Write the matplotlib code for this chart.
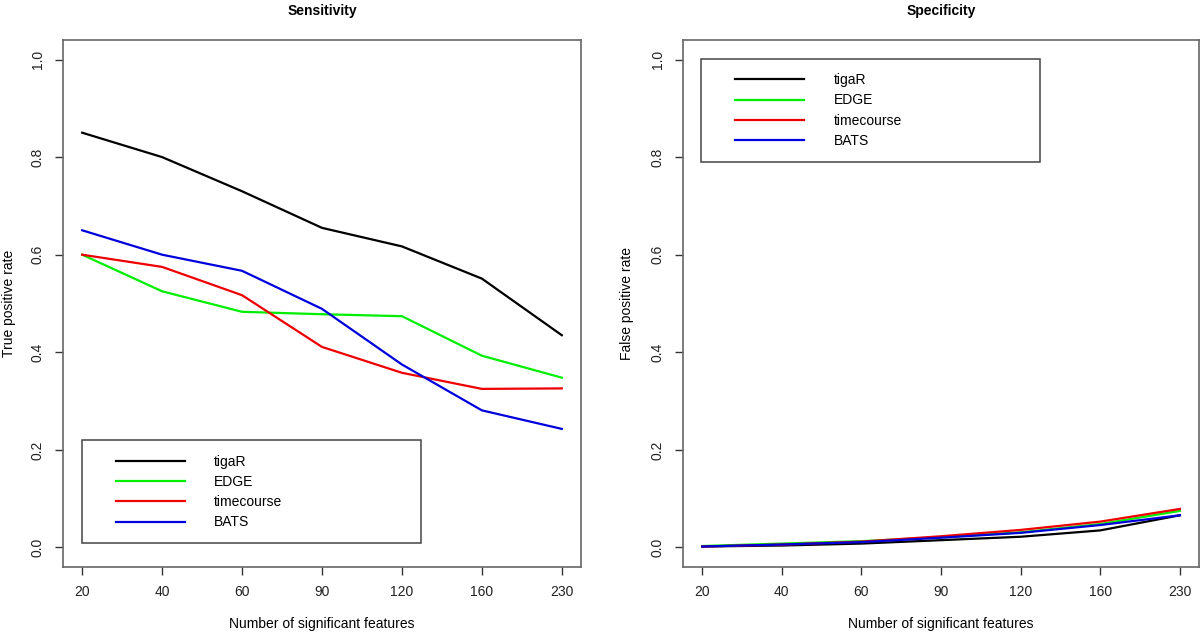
import numpy as np
import matplotlib
matplotlib.use("Agg")
import matplotlib.pyplot as plt
from matplotlib.patches import Rectangle

plt.rcParams['font.family'] = ['Liberation Sans', 'DejaVu Sans']

features = ['20', '40', '60', '90', '120', '160', '230']
methods = ['tigaR', 'EDGE', 'timecourse', 'BATS']
colors = ['black', '#00ee00', '#ee0000', '#0000dd']

sens_tigar = [0.850, 0.800, 0.730, 0.655, 0.617, 0.551, 0.435]
sens_edge = [0.600, 0.525, 0.483, 0.478, 0.474, 0.393, 0.348]
sens_timecourse = [0.600, 0.575, 0.517, 0.411, 0.358, 0.325, 0.326]
sens_bats = [0.650, 0.600, 0.567, 0.489, 0.375, 0.281, 0.243]

spec_tigar = [0.002, 0.004, 0.008, 0.015, 0.022, 0.035, 0.066]
spec_edge = [0.003, 0.008, 0.013, 0.021, 0.031, 0.048, 0.075]
spec_timecourse = [0.002, 0.006, 0.012, 0.023, 0.036, 0.053, 0.079]
spec_bats = [0.002, 0.006, 0.011, 0.020, 0.030, 0.046, 0.066]

sens = [sens_tigar, sens_edge, sens_timecourse, sens_bats]
spec = [spec_tigar, spec_edge, spec_timecourse, spec_bats]

W, H = 1200, 633
fig = plt.figure(figsize=(12, 6.33), dpi=100)
ax1 = fig.add_axes([63 / W, (H - 567) / H, 518 / W, 527 / H])
ax2 = fig.add_axes([683 / W, (H - 567) / H, 516 / W, 527 / H])

x = np.arange(len(features))


def style(ax, title, ylabel, ylab_x):
    ax.set_xlim(-0.24, 6.24)
    ax.set_ylim(-0.04, 1.04)
    ax.set_xticks(x)
    ax.set_xticklabels(features)
    ax.set_yticks([0, 0.2, 0.4, 0.6, 0.8, 1.0])
    ax.set_yticklabels(['0.0', '0.2', '0.4', '0.6', '0.8', '1.0'],
                       rotation=90, va='center')
    ax.tick_params(direction='out', length=6, width=1, colors='#333333',
                   labelsize=10, labelcolor='#222222')
    ax.tick_params(axis='x', pad=7)
    ax.tick_params(axis='y', pad=7)
    for s in ax.spines.values():
        s.set_color('#666666')
        s.set_linewidth(1.2)
    ax.set_title(title, fontsize=10, fontweight='bold', pad=18)
    ax.set_xlabel('Number of significant features', fontsize=10, labelpad=13)
    ax.set_ylabel(ylabel, fontsize=10)
    ax.yaxis.set_label_coords(ylab_x, 0.5)


for ax, data, title, ylab, lx in [(ax1, sens, 'Sensitivity', 'True positive rate', -0.09),
                                  (ax2, spec, 'Specificity', 'False positive rate', -0.095)]:
    for vals, c, m in zip(data, colors, methods):
        ax.plot(x, vals, color=c, lw=1.6, label=m)
    style(ax, title, ylab, lx)

# legend frames (drawn like R's legend box)
ax1.add_patch(Rectangle((0.036, 0.046), 0.6545, 0.195, transform=ax1.transAxes,
                        fill=False, edgecolor='#444444', lw=1.1))
ax2.add_patch(Rectangle((0.0355, 0.768), 0.6565, 0.195, transform=ax2.transAxes,
                        fill=False, edgecolor='#444444', lw=1.1))

leg_kw = dict(frameon=False, loc='upper left', borderpad=0, borderaxespad=0,
              handlelength=5.0, handletextpad=2.1, labelspacing=0.45,
              fontsize=10)
ax1.legend(bbox_to_anchor=(0.1017, 0.213), **leg_kw)
ax2.legend(bbox_to_anchor=(0.1008, 0.937), **leg_kw)

fig.savefig('out.png', dpi=100)
